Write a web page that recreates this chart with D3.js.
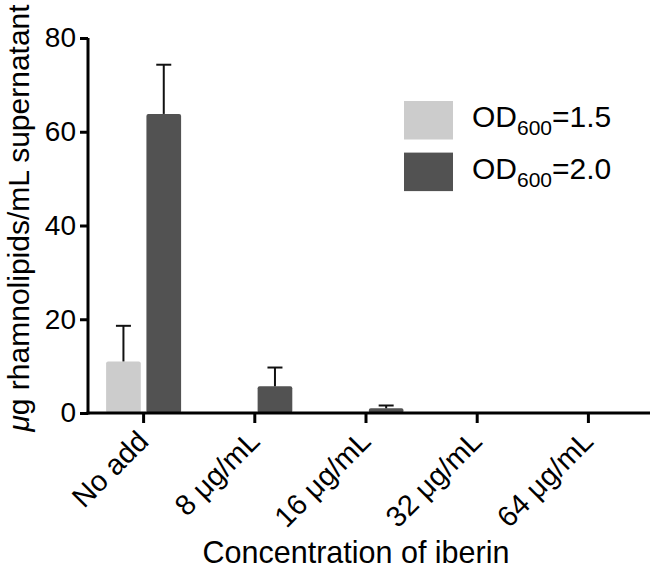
<!DOCTYPE html>
<html>
<head>
<style>
  body { margin: 0; background: #fff; }
  text { font-family: Arial, "Liberation Sans", sans-serif; }
</style>
</head>
<body>
<svg width="650" height="569"></svg>
<script src="https://d3js.org/d3.v7.min.js"></script>
<script>

var categories = ["No add", "8 \u03bcg/mL", "16 \u03bcg/mL", "32 \u03bcg/mL", "64 \u03bcg/mL"];
var series = ["OD=1.5", "OD=2.0"];
var od15 = [11.0, 0.2, 0, 0, 0];
var od15err = [7.6, 0, 0, 0, 0];
var od20 = [63.8, 5.7, 1.0, 0, 0];
var od20err = [10.5, 4.0, 0.6, 0, 0];
var yTicks = [0, 20, 40, 60, 80];

var colors = ["#cccccc", "#525252"];

var svg = d3.select("svg"),
    margin = {top: 38, right: 3, bottom: 156, left: 88},
    width = +svg.attr("width") - margin.left - margin.right,
    height = +svg.attr("height") - margin.top - margin.bottom,
    g = svg.append("g").attr("transform", "translate(" + margin.left + "," + margin.top + ")");

var x = d3.scaleBand().domain(categories).range([0, width - 3]);
var x1 = d3.scaleBand().domain(series).range([-37.5, 37.5]).paddingInner(0.14);
var y = d3.scaleLinear().domain([0, 80]).range([height, 0]);

var data = categories.map(function(c, i) {
  return [
    {cat: c, s: series[0], v: od15[i], e: od15err[i], col: colors[0]},
    {cat: c, s: series[1], v: od20[i], e: od20err[i], col: colors[1]}
  ];
});

var bars = data.reduce(function(a, b) { return a.concat(b); }, []);

function cx(d) { return x(d.cat) + x.bandwidth() / 2 + x1(d.s) + x1.bandwidth() / 2; }

// bars
g.selectAll(".bar")
  .data(bars)
  .enter().append("rect")
    .attr("x", function(d) { return x(d.cat) + x.bandwidth() / 2 + x1(d.s); })
    .attr("y", function(d) { return y(d.v); })
    .attr("width", x1.bandwidth())
    .attr("height", function(d) { return y(0) - y(d.v); })
    .attr("rx", 2)
    .attr("fill", function(d) { return d.col; });

// error bars (upper only)
var eb = g.selectAll(".err")
  .data(bars.filter(function(d) { return d.e > 0; }))
  .enter().append("g")
    .attr("stroke", "#111")
    .attr("stroke-width", 2);

eb.append("line")
    .attr("x1", cx)
    .attr("x2", cx)
    .attr("y1", function(d) { return y(d.v); })
    .attr("y2", function(d) { return y(d.v + d.e); });

eb.append("line")
    .attr("x1", function(d) { return cx(d) - 7.5; })
    .attr("x2", function(d) { return cx(d) + 7.5; })
    .attr("y1", function(d) { return y(d.v + d.e); })
    .attr("y2", function(d) { return y(d.v + d.e); });

// y axis
var yAxis = g.append("g")
    .call(d3.axisLeft(y).tickValues(yTicks).tickSize(8).tickPadding(4));
yAxis.selectAll("path, line").attr("stroke", "#000").attr("stroke-width", 3);
yAxis.select(".domain").attr("d", "M0," + (height + 1.5) + "V0");
yAxis.selectAll("text").attr("font-size", "28px").attr("fill", "#000");

// x axis
var xAxis = g.append("g")
    .attr("transform", "translate(0," + height + ")")
    .call(d3.axisBottom(x).tickSize(10).tickSizeOuter(0));
xAxis.select(".domain").attr("d", "M-1.5,0H" + (width + 3));
xAxis.selectAll("path, line").attr("stroke", "#000").attr("stroke-width", 3);
xAxis.selectAll("text")
    .attr("font-size", "29px")
    .attr("fill", "#000")
    .attr("text-anchor", "end")
    .attr("transform", "translate(6.5,30) rotate(-45)")
    .attr("dy", 0)
    .attr("y", 0);

// axis titles
svg.append("text")
    .attr("transform", "translate(29,218) rotate(-90)")
    .attr("text-anchor", "middle")
    .attr("font-size", "30px")
    .html('<tspan font-style="italic">\u03bc</tspan>g rhamnolipids/mL supernatant');

svg.append("text")
    .attr("x", 356)
    .attr("y", 563)
    .attr("text-anchor", "middle")
    .attr("font-size", "30.5px")
    .text("Concentration of iberin");

// legend
var legend = svg.append("g").attr("transform", "translate(404,101)");
var items = legend.selectAll("g")
  .data(["1.5", "2.0"])
  .enter().append("g")
    .attr("transform", function(d, i) { return "translate(0," + (i * 51.6) + ")"; });

items.append("rect")
    .attr("width", 49)
    .attr("height", 38.5)
    .attr("fill", function(d, i) { return colors[i]; });

var lt = items.append("text")
    .attr("x", 68)
    .attr("y", 26)
    .attr("font-size", "30px");
lt.append("tspan").text("OD");
lt.append("tspan").attr("font-size", "21px").attr("dy", 8).text("600");
lt.append("tspan").attr("dy", -8).text(function(d) { return "=" + d; });

</script>
</body>
</html>
